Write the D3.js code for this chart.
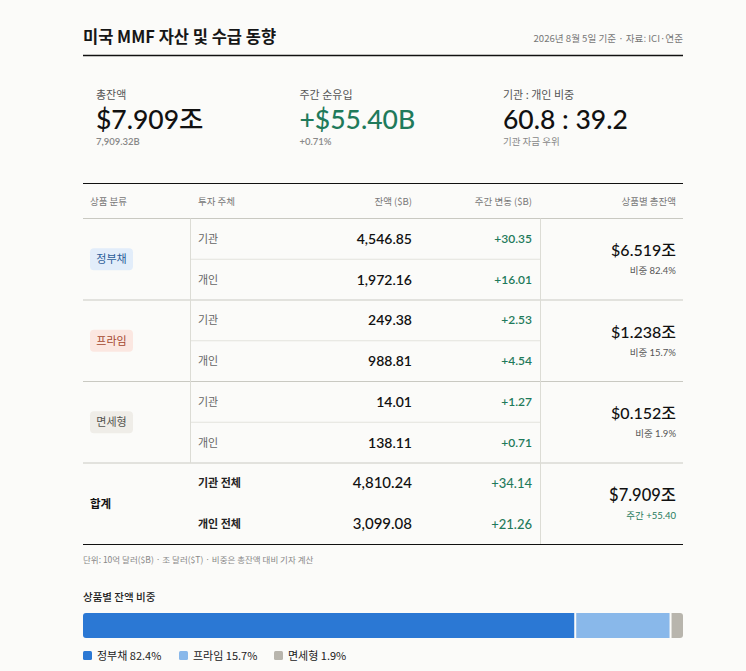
<!DOCTYPE html>
<html>
<head>
<meta charset="utf-8">
<script src="https://cdn.jsdelivr.net/npm/d3@7"></script>
<style>
  html, body { margin: 0; padding: 0; background: #fbfbf9; }
  svg { display: block; font-family: "Lato", "Noto Sans CJK KR", sans-serif; }
  .kr { font-family: "Noto Sans CJK KR", sans-serif; }
</style>
</head>
<body>
<div id="chart"></div>
<script>
// data
var categories = ["정부채", "프라임", "면세형"];
var investors = ["기관", "개인"];
var balances = [[4546.85, 1972.16], [249.38, 988.81], [14.01, 138.11]];
var changes = [[30.35, 16.01], [2.53, 4.54], [1.27, 0.71]];
var categoryTotals = [6519.01, 1238.19, 152.12];
var categoryShares = [82.4, 15.7, 1.9];
var totalLabels = ["기관 전체", "개인 전체"];
var totalBalances = [4810.24, 3099.08];
var totalChanges = [34.14, 21.26];
var grandTotal = 7909.32;
var weeklyFlow = 55.40;
var flowPct = 0.71;
var investorRatio = [60.8, 39.2];
var headers = ["상품 분류", "투자 주체", "잔액 ($B)", "주간 변동 ($B)", "상품별 총잔액"];

var pillBg = ["#e2edfa", "#fbe7e1", "#efede8"];
var pillFg = ["#2b5d98", "#a4472f", "#555550"];
var barColors = ["#2b78d4", "#89b8ea", "#b8b5ad"];
var green = "#1f7a5b";

var width = 746, height = 671;
var left = 83, right = 683;

var svg = d3.select("#chart").append("svg")
  .attr("width", width)
  .attr("height", height);

var fmt = d3.format(",.2f");

// header
svg.append("text").attr("class", "kr")
  .attr("x", left).attr("y", 43)
  .attr("font-size", 16.5).attr("font-weight", 600).attr("fill", "#161616")
  .text("미국 MMF 자산 및 수급 동향");
svg.append("text").attr("class", "kr")
  .attr("x", right).attr("y", 42)
  .attr("text-anchor", "end")
  .attr("font-size", 9.6).attr("fill", "#777")
  .text("2026년 8월 5일 기준 · 자료: ICI·연준");
svg.append("line")
  .attr("x1", left).attr("x2", right).attr("y1", 55.5).attr("y2", 55.5)
  .attr("stroke", "#111").attr("stroke-width", 1.5);

// KPIs
var kpis = [
  { label: "총잔액", value: "$" + (grandTotal / 1000).toFixed(3) + "조", sub: fmt(grandTotal) + "B", color: "#111" },
  { label: "주간 순유입", value: "+$" + weeklyFlow.toFixed(2) + "B", sub: "+" + flowPct.toFixed(2) + "%", color: green },
  { label: "기관 : 개인 비중", value: investorRatio[0].toFixed(1) + " : " + investorRatio[1].toFixed(1), sub: "기관 자금 우위", color: "#111" }
];
var kx = d3.scalePoint().domain(d3.range(kpis.length)).range([96, 503]);
var kg = svg.selectAll(".kpi").data(kpis).enter().append("g")
  .attr("transform", (d, i) => `translate(${kx(i)},0)`);
kg.append("text").attr("class", "kr").attr("y", 99)
  .attr("font-size", 11).attr("fill", "#555").text(d => d.label);
kg.append("text").attr("y", 129)
  .attr("font-size", 26.5).attr("font-weight", 500).attr("fill", d => d.color).text(d => d.value);
kg.append("text").attr("y", 145)
  .attr("font-size", 9.5).attr("font-weight", (d, i) => i == 2 ? 400 : 600).attr("fill", "#888")
  .attr("class", (d, i) => i == 2 ? "kr" : null)
  .text(d => d.sub);

// table
var tTop = 183.5, hdrBottom = 218.5;
var rowKeys = d3.range(8);
var y = d3.scaleBand().domain(rowKeys).range([hdrBottom, 544.5]);
var col = { c1: 90, c2: 198, bal: 412, chg: 532, tot: 676, v1: 190.5, v2: 540.5 };

svg.append("line").attr("x1", left).attr("x2", right).attr("y1", tTop).attr("y2", tTop)
  .attr("stroke", "#111").attr("stroke-width", 1.2);

var hx = [col.c1, col.c2, col.bal, col.chg, col.tot];
svg.selectAll(".hdr").data(headers).enter().append("text").attr("class", "kr")
  .attr("x", (d, i) => hx[i]).attr("y", 205)
  .attr("text-anchor", (d, i) => i >= 2 ? "end" : "start")
  .attr("font-size", 9.5).attr("fill", "#777").text(d => d);

svg.append("line").attr("x1", left).attr("x2", right).attr("y1", hdrBottom).attr("y2", hdrBottom)
  .attr("stroke", "#c9c9c2");

// group rows
categories.forEach(function(cat, gi) {
  var g0 = y(gi * 2), g1 = y(gi * 2 + 1), gEnd = g1 + y.bandwidth();
  svg.append("line").attr("x1", col.v1).attr("x2", col.v2).attr("y1", g1).attr("y2", g1)
    .attr("stroke", "#e3e3dd");
  svg.append("line").attr("x1", left).attr("x2", right).attr("y1", gEnd).attr("y2", gEnd)
    .attr("stroke", "#c9c9c2");
  var cy = g1;
  var pw = 43, ph = 22;
  svg.append("rect").attr("x", col.c1).attr("y", cy - ph / 2).attr("width", pw).attr("height", ph)
    .attr("rx", 4).attr("fill", pillBg[gi]);
  svg.append("text").attr("class", "kr").attr("x", col.c1 + pw / 2).attr("y", cy + 4)
    .attr("text-anchor", "middle").attr("font-size", 11).attr("fill", pillFg[gi]).text(cat);

  investors.forEach(function(inv, ii) {
    var ry = y(gi * 2 + ii) + y.bandwidth() / 2;
    svg.append("text").attr("class", "kr").attr("x", col.c2).attr("y", ry + 4)
      .attr("font-size", 11).attr("fill", "#666").text(inv);
    svg.append("text").attr("x", col.bal).attr("y", ry + 5).attr("text-anchor", "end")
      .attr("font-size", 14).attr("font-weight", 600).attr("fill", "#111").text(fmt(balances[gi][ii]));
    svg.append("text").attr("x", col.chg).attr("y", ry + 4).attr("text-anchor", "end")
      .attr("font-size", 12).attr("font-weight", 600).attr("fill", green).text("+" + fmt(changes[gi][ii]));
  });

  svg.append("text").attr("x", col.tot).attr("y", cy - 3).attr("text-anchor", "end")
    .attr("font-size", 16).attr("font-weight", 500).attr("fill", "#111")
    .text("$" + (categoryTotals[gi] / 1000).toFixed(3) + "조");
  svg.append("text").attr("x", col.tot).attr("y", cy + 15).attr("text-anchor", "end")
    .attr("font-size", 9.5).attr("fill", "#555")
    .text("비중 " + categoryShares[gi].toFixed(1) + "%");
});

// totals
var t1 = y(7);
svg.append("text").attr("class", "kr").attr("x", col.c1).attr("y", t1 + 4)
  .attr("font-size", 11.5).attr("font-weight", 600).attr("fill", "#111").text("합계");
totalLabels.forEach(function(lab, i) {
  var ry = y(6 + i) + y.bandwidth() / 2;
  svg.append("text").attr("class", "kr").attr("x", col.c2).attr("y", ry + 4)
    .attr("font-size", 11).attr("font-weight", 600).attr("fill", "#222").text(lab);
  svg.append("text").attr("x", col.bal).attr("y", ry + 5).attr("text-anchor", "end")
    .attr("font-size", 15).attr("font-weight", 500).attr("fill", "#111").text(fmt(totalBalances[i]));
  svg.append("text").attr("x", col.chg).attr("y", ry + 5).attr("text-anchor", "end")
    .attr("font-size", 13).attr("font-weight", 500).attr("fill", green).text("+" + fmt(totalChanges[i]));
});
svg.append("text").attr("x", col.tot).attr("y", t1 - 3).attr("text-anchor", "end")
  .attr("font-size", 16.5).attr("font-weight", 500).attr("fill", "#111")
  .text("$" + (grandTotal / 1000).toFixed(3) + "조");
svg.append("text").attr("x", col.tot).attr("y", t1 + 15).attr("text-anchor", "end")
  .attr("font-size", 9.5).attr("fill", green).text("주간 +" + weeklyFlow.toFixed(2));

// verticals
var tableBottom = y.range()[1];
svg.append("line").attr("x1", col.v1).attr("x2", col.v1).attr("y1", hdrBottom).attr("y2", y(6))
  .attr("stroke", "#dcdcd5");
svg.append("line").attr("x1", col.v2).attr("x2", col.v2).attr("y1", hdrBottom).attr("y2", tableBottom)
  .attr("stroke", "#dcdcd5");
svg.append("line").attr("x1", left).attr("x2", right).attr("y1", tableBottom).attr("y2", tableBottom)
  .attr("stroke", "#111").attr("stroke-width", 1.2);

svg.append("text").attr("class", "kr").attr("x", left).attr("y", 563)
  .attr("font-size", 8.5).attr("fill", "#888")
  .text("단위: 10억 달러($B) · 조 달러($T) · 비중은 총잔액 대비 기자 계산");

// share bar
svg.append("text").attr("class", "kr").attr("x", left).attr("y", 601)
  .attr("font-size", 10.5).attr("font-weight", 500).attr("fill", "#222").text("상품별 잔액 비중");

var gap = 2;
var x = d3.scaleLinear().domain([0, d3.sum(categoryTotals)])
  .range([0, right - left - gap * (categoryTotals.length - 1)]);
var stack = d3.cumsum(categoryTotals);
var starts = categoryTotals.map((d, i) => stack[i] - d);

var clip = svg.append("clipPath").attr("id", "barclip");
clip.append("rect").attr("x", left).attr("y", 613).attr("width", right - left).attr("height", 25).attr("rx", 3);
svg.append("g").attr("clip-path", "url(#barclip)")
  .selectAll("rect").data(categoryTotals).enter().append("rect")
  .attr("x", (d, i) => left + x(starts[i]) + gap * i)
  .attr("width", d => x(d))
  .attr("y", 613).attr("height", 25)
  .attr("fill", (d, i) => barColors[i]);

var legX = [83, 179, 274];
var lg = svg.selectAll(".leg").data(categories).enter().append("g")
  .attr("transform", (d, i) => `translate(${legX[i]},651)`);
lg.append("rect").attr("width", 9).attr("height", 9).attr("rx", 1.5).attr("fill", (d, i) => barColors[i]);
lg.append("text").attr("class", "kr").attr("x", 14).attr("y", 9)
  .attr("font-size", 11).attr("fill", "#222")
  .text((d, i) => d + " " + categoryShares[i].toFixed(1) + "%");
</script>
</body>
</html>
